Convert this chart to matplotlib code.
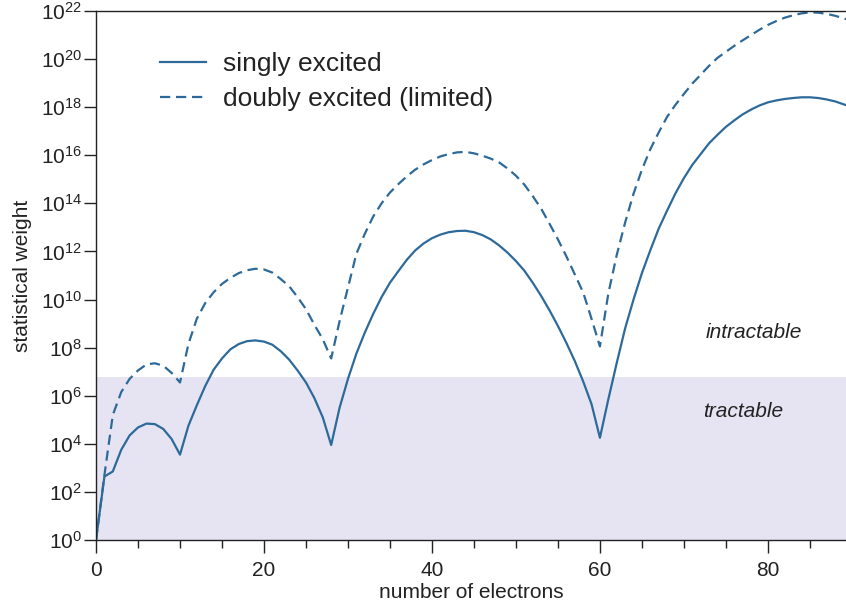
import numpy as np
import matplotlib.pyplot as plt

plt.rcParams['font.family'] = ['Liberation Sans', 'DejaVu Sans']
plt.rcParams['mathtext.default'] = 'regular'

# electron counts 0..90 and log10 of the statistical weight for each curve
electrons = list(range(0, 91))
log_single = [0, 2.64, 2.85, 3.75, 4.35, 4.68, 4.84, 4.82, 4.62, 4.2,
              3.55, 4.75, 5.6, 6.4, 7.08, 7.55, 7.93, 8.15, 8.27, 8.3,
              8.25, 8.12, 7.85, 7.5, 7.05, 6.55, 5.9, 5.1, 3.95, 5.5,
              6.7, 7.75, 8.62, 9.4, 10.1, 10.7, 11.18, 11.65, 12.04, 12.33,
              12.55, 12.7, 12.8, 12.85, 12.86, 12.8, 12.68, 12.5, 12.25, 11.95,
              11.6, 11.2, 10.7, 10.15, 9.55, 8.9, 8.2, 7.45, 6.6, 5.65,
              4.25, 5.85, 7.36, 8.8, 10.0, 11.1, 12.05, 12.95, 13.7, 14.42,
              15.05, 15.6, 16.05, 16.5, 16.85, 17.18, 17.45, 17.7, 17.9, 18.07,
              18.2, 18.28, 18.34, 18.38, 18.41, 18.41, 18.38, 18.32, 18.24, 18.12,
              18.0]
log_double = [0, 2.7, 5.2, 6.15, 6.7, 7.05, 7.3, 7.35, 7.25, 6.95,
              6.55, 8.15, 9.2, 9.85, 10.3, 10.65, 10.9, 11.1, 11.22, 11.28,
              11.25, 11.12, 10.85, 10.55, 10.1, 9.6, 8.95, 8.35, 7.55, 9.1,
              10.5, 11.9, 12.73, 13.45, 14.0, 14.45, 14.8, 15.12, 15.4, 15.62,
              15.8, 15.95, 16.05, 16.12, 16.14, 16.08, 15.98, 15.86, 15.7, 15.45,
              15.15, 14.78, 14.3, 13.78, 13.15, 12.5, 11.8, 11.05, 10.3, 9.2,
              8.05, 10.25, 11.85, 13.2, 14.4, 15.4, 16.25, 16.95, 17.6, 18.1,
              18.55, 18.98, 19.35, 19.72, 20.05, 20.3, 20.55, 20.78, 21.0, 21.22,
              21.42, 21.58, 21.72, 21.82, 21.9, 21.94, 21.93, 21.88, 21.8, 21.7,
              21.58]
tractable_limit = 6.0e6
ytick_exponents = list(range(0, 23, 2))
xtick_major = [0, 20, 40, 60, 80]

blue = '#2d6a9a'
ink = '#222222'

fig = plt.figure(figsize=(8.46, 6.13), dpi=100)
ax = fig.add_axes([0.1135, 0.1191, 0.8865, 0.8630])

# shaded tractable band
ax.axhspan(1, tractable_limit, color='#e6e4f3', lw=0, zorder=0)

ax.plot(electrons, 10.0 ** np.array(log_single), color=blue, lw=1.6,
        label='singly excited')
ax.plot(electrons, 10.0 ** np.array(log_double), color=blue, lw=1.6,
        linestyle=(0, (4.6, 2.6)), label='doubly excited (limited)')

ax.set_yscale('log')
ax.set_xlim(0, 89.3)
ax.set_ylim(1, 1e22)

ax.set_yticks([10.0 ** e for e in ytick_exponents])
ax.set_yticklabels(['$10^{%d}$' % e for e in ytick_exponents])
ax.yaxis.set_minor_locator(plt.NullLocator())
ax.set_xticks(xtick_major)
ax.set_xticks([x for x in range(0, 90, 5) if x % 20], minor=True)

ax.tick_params(axis='both', which='major', direction='out', length=9,
               width=1, colors=ink, labelsize=15)
ax.tick_params(axis='y', pad=1)
ax.tick_params(axis='x', pad=6)
ax.tick_params(axis='x', which='minor', direction='out', length=5.5,
               width=1, colors=ink)

for side in ['left', 'bottom', 'top']:
    ax.spines[side].set_linewidth(1)
    ax.spines[side].set_color(ink)
ax.spines['right'].set_visible(False)

ax.set_xlabel('number of electrons', fontsize=15, color=ink)
ax.set_ylabel('statistical weight', fontsize=15, color=ink)
ax.xaxis.set_label_coords(0.5, -0.082)
ax.yaxis.set_label_coords(-0.085, 0.5)

ax.text(78.3, 10 ** 8.63, 'intractable', style='italic', fontsize=15,
        color=ink, ha='center', va='center')
ax.text(77.1, 10 ** 5.33, 'tractable', style='italic', fontsize=15,
        color=ink, ha='center', va='center')

ax.legend(loc='upper left', bbox_to_anchor=(0.085, 0.922), frameon=False,
          fontsize=19, handlelength=1.75, handletextpad=0.65,
          labelspacing=0.4, borderpad=0, borderaxespad=0, labelcolor=ink)

fig.savefig('out.png', dpi=100)
